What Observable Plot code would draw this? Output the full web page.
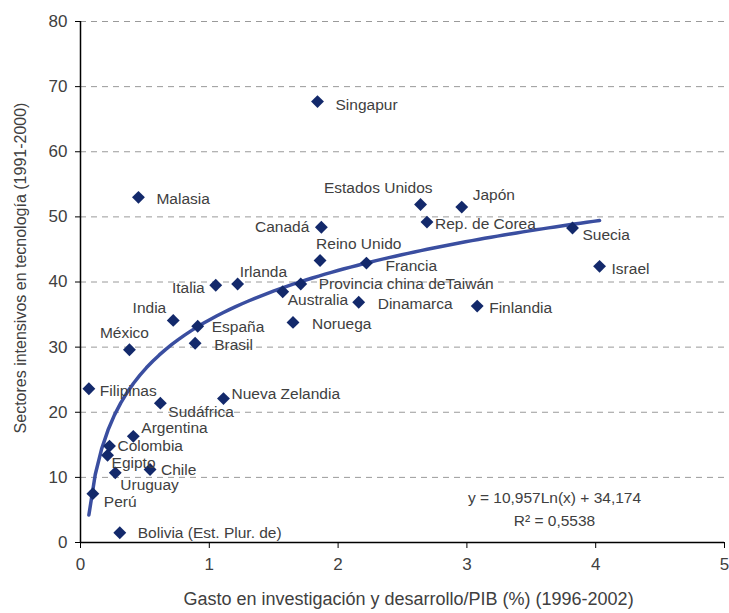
<!DOCTYPE html>
<html>
<head>
<meta charset="utf-8">
<script src="https://cdn.jsdelivr.net/npm/d3@7"></script>
<script src="https://cdn.jsdelivr.net/npm/@observablehq/plot@0.6"></script>
<style>
  html, body { margin: 0; padding: 0; background: #fff; }
  #chart svg { display: block; }
</style>
</head>
<body>
<div id="chart"></div>
<script>
// ---- Data ----
const countries = [
  "Singapur", "Malasia", "Estados Unidos", "Japón", "Rep. de Corea", "Canadá", "Suecia",
  "Reino Unido", "Francia", "Israel", "Provincia china deTaiwán", "Australia", "Dinamarca",
  "Finlandia", "Noruega", "Italia", "Irlanda", "India", "España", "Brasil", "México",
  "Filipinas", "Sudáfrica", "Nueva Zelandia", "Argentina", "Colombia", "Egipto", "Chile",
  "Uruguay", "Perú", "Bolivia (Est. Plur. de)"
];
const gastoID = [
  1.84, 0.45, 2.64, 2.96, 2.69, 1.87, 3.82,
  1.86, 2.22, 4.03, 1.71, 1.57, 2.16,
  3.08, 1.65, 1.05, 1.22, 0.72, 0.91, 0.89, 0.38,
  0.065, 0.62, 1.11, 0.41, 0.225, 0.21, 0.54,
  0.27, 0.096, 0.305
];
const sectoresTec = [
  67.7, 53.0, 51.9, 51.5, 49.2, 48.4, 48.3,
  43.3, 42.9, 42.4, 39.7, 38.5, 36.9,
  36.3, 33.8, 39.5, 39.7, 34.1, 33.2, 30.6, 29.6,
  23.6, 21.4, 22.1, 16.3, 14.8, 13.4, 11.2,
  10.7, 7.5, 1.5
];
const xTicks = [0, 1, 2, 3, 4, 5];
const yTicks = [0, 10, 20, 30, 40, 50, 60, 70, 80];
const trendA = 10.957;   // y = a Ln(x) + b
const trendB = 34.174;
const eqText = "y = 10,957Ln(x) + 34,174";
const r2Text = "R² = 0,5538";
const xLabel = "Gasto en investigación y desarrollo/PIB (%) (1996-2002)";
const yLabel = "Sectores intensivos en tecnología (1991-2000)";

// ---- Styling: label placement (dx, dy, anchor) ----
const labelPlacement = {
  "Singapur": [18, 3, "start"],
  "Malasia": [18, 2, "start"],
  "Estados Unidos": [12, -16, "end"],
  "Japón": [11, -12, "start"],
  "Rep. de Corea": [8, 2, "start"],
  "Canadá": [-12, 0, "end"],
  "Suecia": [10, 7, "start"],
  "Reino Unido": [-4, -16, "start"],
  "Francia": [19, 3, "start"],
  "Israel": [12, 3, "start"],
  "Provincia china deTaiwán": [18, 0, "start"],
  "Australia": [5, 8, "start"],
  "Dinamarca": [19, 2, "start"],
  "Finlandia": [12, 2, "start"],
  "Noruega": [19, 2, "start"],
  "Italia": [-11, 3, "end"],
  "Irlanda": [2, -12, "start"],
  "India": [-7, -12, "end"],
  "España": [14, 1, "start"],
  "Brasil": [19, 2, "start"],
  "México": [-5, -17, "middle"],
  "Filipinas": [11, 2, "start"],
  "Sudáfrica": [8, 9, "start"],
  "Nueva Zelandia": [8, -5, "start"],
  "Argentina": [8, -8, "start"],
  "Colombia": [8, 0, "start"],
  "Egipto": [4, 8, "start"],
  "Chile": [11, 0, "start"],
  "Uruguay": [5, 12, "start"],
  "Perú": [11, 8, "start"],
  "Bolivia (Est. Plur. de)": [18, 0, "start"]
};

const points = countries.map((c, i) => ({country: c, x: gastoID[i], y: sectoresTec[i]}));

// Trend line sampled along the data's x range
const xMin = d3.min(gastoID), xMax = d3.max(gastoID);
const trend = d3.range(0, 81).map(k => {
  const x = xMin + (xMax - xMin) * k / 80;
  return {x, y: trendA * Math.log(x) + trendB};
});

const textColor = "#404040";
const navy = "#13296b";

const labelMarks = points.map(p => {
  const [dx, dy, anchor] = labelPlacement[p.country];
  return Plot.text([p], {x: "x", y: "y", text: "country", dx, dy, textAnchor: anchor,
    fontSize: 15.5, fill: textColor});
});

const chart = Plot.plot({
  width: 729,
  height: 613,
  marginLeft: 80,
  marginRight: 5,
  marginTop: 21,
  marginBottom: 71,
  style: {fontFamily: "'Liberation Sans', Arial, sans-serif", color: textColor, background: "#fff"},
  x: {domain: [0, 5]},
  y: {domain: [0, 80]},
  marks: [
    Plot.ruleY(yTicks.filter(t => t > 0), {stroke: "#9a9a9a", strokeWidth: 1, strokeDasharray: "6,5"}),
    Plot.axisY({ticks: yTicks, tickFormat: d => String(d), tickSize: 5, tickPadding: 8, fontSize: 17, label: null, stroke: "#000", fill: textColor}),
    Plot.axisX({ticks: xTicks, tickFormat: d => String(d), tickSize: 6, tickPadding: 9, fontSize: 17, label: null, stroke: "#000", fill: textColor}),
    Plot.ruleX([0], {stroke: "#000", strokeWidth: 1.5}),
    Plot.ruleY([0], {stroke: "#000", strokeWidth: 1.5}),
    Plot.line(trend, {x: "x", y: "y", stroke: "#3a4ea0", strokeWidth: 3.5}),
    Plot.dot(points, {x: "x", y: "y", symbol: "diamond2", r: 5.8, fill: navy, stroke: "none"}),
    ...labelMarks,
    Plot.text([eqText], {frameAnchor: "bottom-right", dx: -170, dy: -40, textAnchor: "middle", fontSize: 15.5, fill: textColor}),
    Plot.text([r2Text], {frameAnchor: "bottom-right", dx: -170, dy: -17, textAnchor: "middle", fontSize: 15.5, fill: textColor}),
    Plot.text([xLabel], {frameAnchor: "bottom", dx: 6, dy: 62, fontSize: 18, fill: textColor}),
    Plot.text([yLabel], {frameAnchor: "left", dx: -60, dy: -14, rotate: -90, textAnchor: "middle", fontSize: 16, fill: textColor})
  ]
});
document.getElementById("chart").appendChild(chart);
</script>
</body>
</html>
